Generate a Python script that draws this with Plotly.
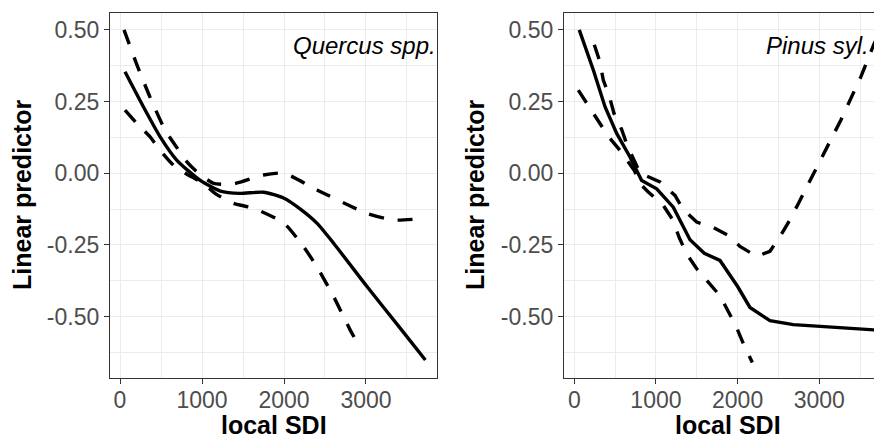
import plotly.graph_objects as go

# ---------------- data ----------------
q_fit_x = [61, 285, 490, 694, 979, 1224, 1465, 1750, 2000, 2200, 2401, 2605, 3012, 3419, 3724]
q_fit_y = [0.354, 0.232, 0.127, 0.045, -0.025, -0.062, -0.070, -0.066, -0.087, -0.125, -0.174, -0.244, -0.395, -0.541, -0.651]
q_up_x = [49, 204, 367, 551, 673, 816, 959, 1140, 1384, 1750, 2000, 2401, 3012, 3338, 3724]
q_up_y = [0.500, 0.380, 0.265, 0.150, 0.098, 0.040, 0.000, -0.035, -0.037, -0.006, 0.000, -0.058, -0.140, -0.163, -0.157]
q_lo_x = [61, 204, 367, 490, 653, 796, 1020, 1163, 1384, 1628, 2000, 2238, 2401, 2605, 2808, 2910]
q_lo_y = [0.220, 0.174, 0.127, 0.080, 0.028, 0.000, -0.036, -0.071, -0.105, -0.122, -0.174, -0.256, -0.326, -0.430, -0.547, -0.599]

p_fit_x = [61, 233, 376, 519, 682, 825, 1009, 1212, 1417, 1592, 1784, 2000, 2151, 2396, 2682, 3090, 3722]
p_fit_y = [0.500, 0.360, 0.232, 0.139, 0.057, -0.025, -0.054, -0.118, -0.232, -0.279, -0.304, -0.395, -0.468, -0.514, -0.528, -0.535, -0.547]
p_up_x = [245, 313, 355, 429, 486, 580, 653, 816, 866, 1049, 1233, 1335, 1499, 1695, 1886, 2029, 2233, 2396, 2539, 2641, 2743, 2845, 3265, 3510, 3673, 3740]
p_up_y = [0.448, 0.389, 0.325, 0.269, 0.209, 0.153, 0.093, -0.005, -0.007, -0.030, -0.077, -0.127, -0.170, -0.188, -0.217, -0.255, -0.290, -0.272, -0.211, -0.162, -0.106, -0.050, 0.186, 0.337, 0.453, 0.490]
p_lo_x = [49, 171, 306, 416, 560, 735, 804, 906, 1090, 1205, 1286, 1376, 1499, 1641, 1784, 1886, 1988, 2070, 2180]
p_lo_y = [0.290, 0.238, 0.179, 0.129, 0.080, 0.010, -0.036, -0.065, -0.112, -0.162, -0.225, -0.281, -0.333, -0.380, -0.427, -0.482, -0.538, -0.594, -0.660]

x_ticks = [0, 1000, 2000, 3000]
x_ticktext = ["0", "1000", "2000", "3000"]
y_ticks = [0.5, 0.25, 0.0, -0.25, -0.5]
y_ticktext = ["0.50", "0.25", "0.00", "-0.25", "-0.50"]
species = ["Quercus spp.", "Pinus syl."]
x_title = "local SDI"
y_title = "Linear predictor"

# ---------------- figure ----------------
# the page body has an 8px margin, so the figure is drawn 8px in from the window corner
OFF = 8
W, H = 882 - OFF, 440 - OFF


def fx(page_x):
    return (page_x - OFF) / W


def fy(page_y):
    return 1 - (page_y - OFF) / H


FONT = "Liberation Sans, Arial, sans-serif"
solid = dict(color="black", width=3.4)
dashed = dict(color="black", width=3.4, dash="15px,14px")

fig = go.Figure()
fig.add_trace(go.Scatter(x=q_fit_x, y=q_fit_y, mode="lines", line=dict(**solid, shape="spline", smoothing=0.6), xaxis="x", yaxis="y"))
fig.add_trace(go.Scatter(x=q_up_x, y=q_up_y, mode="lines", line=dict(**dashed, shape="spline", smoothing=0.6), xaxis="x", yaxis="y"))
fig.add_trace(go.Scatter(x=q_lo_x, y=q_lo_y, mode="lines", line=dict(**dashed, shape="spline", smoothing=0.6), xaxis="x", yaxis="y"))
fig.add_trace(go.Scatter(x=p_fit_x, y=p_fit_y, mode="lines", line=solid, xaxis="x2", yaxis="y2"))
fig.add_trace(go.Scatter(x=p_up_x, y=p_up_y, mode="lines", line=dashed, xaxis="x2", yaxis="y2"))
fig.add_trace(go.Scatter(x=p_lo_x, y=p_lo_y, mode="lines", line=dashed, xaxis="x2", yaxis="y2"))

common_axis = dict(
    showline=True, mirror=True, linecolor="#333333", linewidth=1.2,
    ticks="outside", ticklen=5, tickwidth=1.2, tickcolor="#333333",
    showgrid=True, gridcolor="#EBEBEB", gridwidth=1.2,
    zeroline=False, automargin=False,
    tickfont=dict(family=FONT, size=23, color="#4D4D4D"),
)
minor_x = dict(showgrid=True, gridcolor="#EBEBEB", gridwidth=0.6, ticks="", dtick=500, tick0=500)
minor_y = dict(showgrid=True, gridcolor="#EBEBEB", gridwidth=0.6, ticks="", dtick=0.25, tick0=0.125)

y_dom = [fy(378), fy(13)]
fig.update_layout(
    template="none",
    width=W, height=H, margin=dict(l=0, r=0, t=0, b=0, pad=0),
    paper_bgcolor="white", plot_bgcolor="white", showlegend=False,
    xaxis=dict(domain=[fx(110), fx(437)], range=[-122, 3866], tickvals=x_ticks, ticktext=x_ticktext,
               minor=minor_x, ticklabelstandoff=-4, **common_axis),
    yaxis=dict(domain=y_dom, range=[-0.714, 0.559], tickvals=y_ticks, ticktext=y_ticktext,
               minor=minor_y, **common_axis),
    xaxis2=dict(domain=[fx(564), 1.0], range=[-126, 3768], tickvals=x_ticks, ticktext=x_ticktext, anchor="y2",
                minor=minor_x, ticklabelstandoff=-4, **common_axis),
    yaxis2=dict(domain=y_dom, range=[-0.714, 0.559], tickvals=y_ticks, ticktext=y_ticktext, anchor="x2",
                minor=minor_y, **common_axis),
)

title_font = dict(family=FONT, size=25, color="black")
anns = [
    dict(text="<b>%s</b>" % x_title, x=fx(274), y=fy(425)),
    dict(text="<b>%s</b>" % x_title, x=fx(728), y=fy(425)),
    dict(text="<b>%s</b>" % y_title, x=fx(22), y=fy(195), textangle=-90),
    dict(text="<b>%s</b>" % y_title, x=fx(475), y=fy(195), textangle=-90),
]
for a in anns:
    fig.add_annotation(xref="paper", yref="paper", showarrow=False, font=title_font,
                       xanchor="center", yanchor="middle", **a)

fig.add_annotation(text="<i>%s</i>" % species[0], xref="paper", yref="paper", x=fx(438), y=fy(45),
                   xanchor="right", yanchor="middle", showarrow=False,
                   font=dict(family=FONT, size=24, color="black"))
fig.add_annotation(text="<i>%s</i>" % species[1], xref="paper", yref="paper", x=fx(871), y=fy(45),
                   xanchor="right", yanchor="middle", showarrow=False,
                   font=dict(family=FONT, size=24, color="black"))

fig.write_html("out.html")
